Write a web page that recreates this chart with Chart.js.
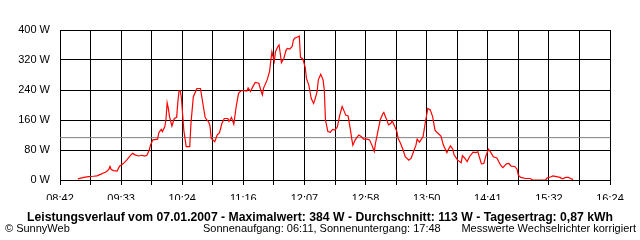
<!DOCTYPE html>
<html>
<head>
<meta charset="utf-8">
<title>Leistungsverlauf</title>
<script src="https://cdn.jsdelivr.net/npm/chart.js@4"></script>
<style>
  body { margin: 0; background: #fff; }
  canvas { display: block; }
</style>
</head>
<body>
<canvas id="powerChart" width="640" height="240"></canvas>
<script>
// Measured power (W) over the day
const times = [
    "08:57","09:02","09:06","09:10","09:13","09:16","09:18","09:21","09:23","09:24",
    "09:25","09:27","09:30","09:32","09:35","09:38","09:41","09:43","09:45","09:48",
    "09:51","09:53","09:55","09:57","09:58","10:00","10:04","10:05","10:07","10:08",
    "10:10","10:11","10:12","10:13","10:14","10:16","10:18","10:20","10:21","10:22",
    "10:23","10:24","10:26","10:28","10:31","10:32","10:34","10:37","10:40","10:42",
    "10:44","10:47","10:48","10:49","10:51","10:52","10:54","10:56","10:58","11:00",
    "11:03","11:04","11:06","11:08","11:10","11:12","11:14","11:17","11:19","11:20",
    "11:22","11:24","11:26","11:29","11:31","11:32","11:33","11:36","11:38","11:39",
    "11:40","11:42","11:43","11:45","11:46","11:47","11:48","11:50","11:52","11:53",
    "11:55","11:57","11:58","11:59","12:02","12:03","12:04","12:06","12:08","12:09",
    "12:11","12:12","12:13","12:15","12:16","12:18","12:19","12:21","12:23","12:24",
    "12:25","12:27","12:29","12:31","12:33","12:35","12:37","12:39","12:40","12:42",
    "12:44","12:46","12:47","12:48","12:50","12:53","12:55","12:57","13:00","13:02",
    "13:04","13:06","13:07","13:09","13:11","13:13","13:14","13:16","13:18","13:20",
    "13:21","13:23","13:25","13:26","13:28","13:30","13:32","13:35","13:37","13:39",
    "13:41","13:42","13:44","13:47","13:49","13:51","13:53","13:55","13:57","13:59",
    "14:02","14:04","14:07","14:08","14:10","14:12","14:13","14:16","14:19","14:20",
    "14:22","14:24","14:26","14:29","14:31","14:33","14:34","14:36","14:38","14:40",
    "14:42","14:44","14:46","14:49","14:52","14:54","14:57","14:59","15:01","15:04",
    "15:06","15:07","15:09","15:13","15:17","15:19","15:30","15:31","15:34","15:36",
    "15:39","15:42","15:44","15:47","15:49","15:51","15:53"
];
const watts = [
    3, 7, 9, 10, 11, 15, 18, 22, 28, 36,
    28, 25, 24, 37, 43, 53, 65, 71, 67, 64,
    66, 64, 66, 80, 93, 107, 109, 126, 135, 129,
    142, 160, 206, 191, 169, 144, 164, 167, 209, 238,
    238, 218, 133, 89, 89, 151, 222, 244, 244, 204,
    166, 154, 144, 111, 105, 102, 120, 126, 151, 164,
    164, 156, 167, 149, 196, 231, 238, 238, 237, 246,
    236, 249, 260, 258, 236, 227, 245, 267, 289, 316,
    342, 316, 342, 356, 360, 338, 313, 324, 347, 351,
    349, 356, 372, 378, 382, 384, 327, 323, 300, 271,
    253, 236, 218, 204, 213, 236, 267, 282, 267, 240,
    160, 129, 127, 135, 133, 142, 173, 196, 189, 173,
    171, 133, 111, 93, 107, 120, 116, 109, 109, 107,
    93, 76, 98, 129, 160, 176, 180, 164, 147, 151,
    158, 144, 129, 111, 98, 82, 62, 53, 58, 76,
    93, 109, 101, 116, 156, 191, 187, 169, 133, 126,
    117, 93, 73, 80, 91, 82, 67, 53, 46, 65,
    58, 49, 62, 74, 73, 75, 64, 43, 44, 67,
    82, 73, 62, 59, 40, 33, 43, 44, 37, 36,
    28, 13, 7, 4, 4, 0, 0, 5, 8, 11,
    9, 7, 3, 7, 7, 4, 1
];
const average = 113;

// Axis labels
const tickLabels = ["08:42","09:33","10:24","11:16","12:07","12:58","13:50","14:41","15:32","16:24"];
const yTicks = [0, 80, 160, 240, 320, 400];

// Texts under the chart
const titleText = "Leistungsverlauf vom 07.01.2007 - Maximalwert: 384 W - Durchschnitt: 113 W - Tagesertrag: 0,87 kWh";
const footLeft = "\u00A9 SunnyWeb";
const footMiddle = "Sonnenaufgang: 06:11, Sonnenuntergang: 17:48";
const footRight = "Messwerte Wechselrichter korrigiert";

function toMinutes(t) {
    const parts = t.split(':');
    return parseInt(parts[0]) * 60 + parseInt(parts[1]);
}

const xMin = toMinutes(tickLabels[0]);
const xMax = toMinutes(tickLabels[tickLabels.length - 1]);
const gridSteps = (tickLabels.length - 1) * 2;

const points = times.map((t, i) => ({ x: toMinutes(t), y: watts[i] }));

// draw the title + footer lines below the axis
const footerPlugin = {
    id: 'footer',
    afterDraw(chart) {
        const ctx = chart.ctx;
        ctx.save();
        ctx.fillStyle = '#000';
        ctx.textBaseline = 'middle';

        ctx.font = 'bold 12.5px "Liberation Sans", Arial, sans-serif';
        ctx.textAlign = 'center';
        ctx.fillText(titleText, 320, 218, 586);

        ctx.font = '11px "Liberation Sans", Arial, sans-serif';
        ctx.textAlign = 'left';
        ctx.fillText(footLeft, 5, 229);
        ctx.fillText(footMiddle, 203, 229, 238);
        ctx.textAlign = 'right';
        ctx.fillText(footRight, 636, 229, 183);
        ctx.restore();
    }
};

const ctx = document.getElementById('powerChart').getContext('2d');
const powerChart = new Chart(ctx, {
    type: 'line',
    data: {
        datasets: [{
            label: 'Leistung',
            data: points,
            borderColor: '#ff0000',
            borderWidth: 1.2,
            pointRadius: 0,
            tension: 0,
            order: 1
        }, {
            label: 'Durchschnitt',
            data: [{ x: xMin, y: average }, { x: xMax, y: average }],
            borderColor: '#808080',
            borderWidth: 1,
            pointRadius: 0,
            order: 2
        }]
    },
    options: {
        responsive: false,
        animation: false,
        devicePixelRatio: 1,
        layout: {
            padding: { top: 30, right: 30, bottom: 40, left: 0 }
        },
        plugins: {
            legend: { display: false },
            tooltip: { enabled: false }
        },
        scales: {
            x: {
                type: 'linear',
                min: xMin,
                max: xMax,
                afterBuildTicks: (scale) => {
                    const ticks = [];
                    for (let i = 0; i <= gridSteps; i++) {
                        ticks.push({ value: xMin + i * (xMax - xMin) / gridSteps });
                    }
                    scale.ticks = ticks;
                },
                afterFit: (scale) => { scale.height = 20; },
                grid: {
                    color: '#000',
                    lineWidth: 1,
                    tickLength: 5,
                    tickColor: '#000'
                },
                border: { color: '#000' },
                ticks: {
                    autoSkip: false,
                    maxRotation: 0,
                    padding: 7,
                    color: '#000',
                    font: { family: '"Liberation Sans", Arial, sans-serif', size: 11 },
                    callback: (value, index) => index % 2 === 0 ? tickLabels[index / 2] : ''
                }
            },
            y: {
                min: 0,
                max: 400,
                afterBuildTicks: (scale) => {
                    scale.ticks = yTicks.map(v => ({ value: v }));
                },
                afterFit: (scale) => { scale.width = 60; },
                grid: {
                    color: '#000',
                    lineWidth: 1,
                    drawTicks: false
                },
                border: { color: '#000' },
                ticks: {
                    padding: 10,
                    color: '#000',
                    font: { family: '"Liberation Sans", Arial, sans-serif', size: 11 },
                    callback: (value) => value + ' W'
                }
            }
        }
    },
    plugins: [footerPlugin]
});
</script>
</body>
</html>
